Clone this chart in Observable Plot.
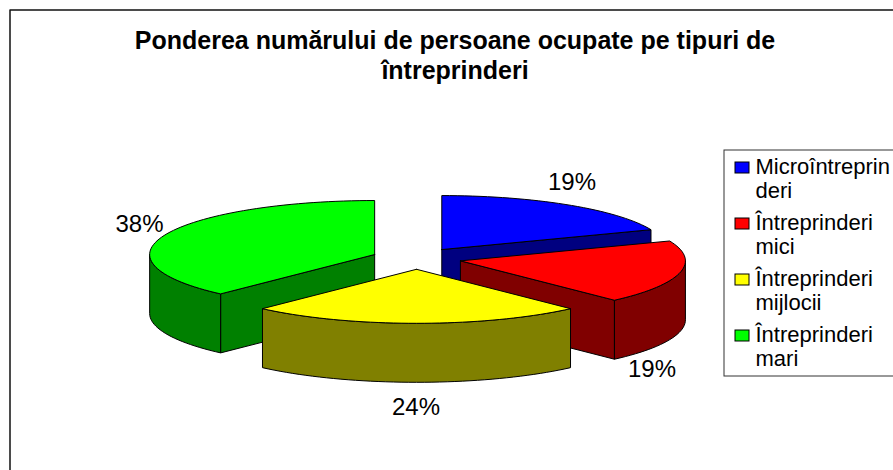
<!DOCTYPE html>
<html>
<head>
<meta charset="utf-8">
<style>html,body{margin:0;padding:0;background:#fff}svg{display:block}</style>
<script src="https://cdn.jsdelivr.net/npm/d3@7"></script>
<script src="https://cdn.jsdelivr.net/npm/@observablehq/plot@0.6"></script>
</head>
<body>
<script>
const categories = ["Microîntreprinderi", "Întreprinderi mici", "Întreprinderi mijlocii", "Întreprinderi mari"];
const shares = [19, 19, 24, 38];
const topColors = ["#0000ff", "#ff0000", "#ffff00", "#00ff00"];
const sideColors = ["#000080", "#800000", "#808000", "#008000"];
const legendLines = [["Microîntreprin", "deri"], ["Întreprinderi", "mici"], ["Întreprinderi", "mijlocii"], ["Întreprinderi", "mari"]];
const titleLines = ["Ponderea numărului de persoane ocupate pe tipuri de", "întreprinderi"];

// projection of the pie (layout only)
const pie = {cx: 416, cy: 258, rx: 225, ry: 54, depth: 59, explode: 0.2};
const font = "'Liberation Sans', Arial, sans-serif";

const total = d3.sum(shares);
const rad = d => d * Math.PI / 180;
const pt = (o, a, dz = 0) => ({x: o.x + pie.rx * Math.sin(rad(a)), y: o.y - pie.ry * Math.cos(rad(a)) + dz});
const arc = (o, a, b, dz = 0) => {
  const n = Math.max(2, Math.ceil(Math.abs(b - a) / 2));
  return d3.range(n + 1).map(i => pt(o, a + (b - a) * i / n, dz));
};

let acc = 0;
const slices = shares.map((v, i) => {
  const a = acc / total * 360; acc += v;
  const b = acc / total * 360;
  const m = (a + b) / 2;
  const o = {x: pie.cx + pie.explode * pie.rx * Math.sin(rad(m)), y: pie.cy - pie.explode * pie.ry * Math.cos(rad(m))};
  return {i, a, b, o};
});

const faces = [];
const addFace = (id, color, pts) => {
  const closed = [...pts, pts[0]];
  closed.forEach(p => faces.push({face: id, color, x: p.x, y: p.y}));
};
const radialWall = (s, ang, id) => {
  const e = pt(s.o, ang);
  addFace(id, sideColors[s.i], [s.o, e, {x: e.x, y: e.y + pie.depth}, {x: s.o.x, y: s.o.y + pie.depth}]);
};
// painter's order: back slice, left slice, right slice, front slice
[0, 3, 1, 2].forEach(k => {
  const s = slices[k];
  if (Math.sin(rad(s.a)) < -1e-6) radialWall(s, s.a, `s${k}-start`);
  if (Math.sin(rad(s.b)) > 1e-6) radialWall(s, s.b, `s${k}-end`);
  const a = Math.max(s.a, 90), b = Math.min(s.b, 270);
  if (b > a) addFace(`s${k}-outer`, sideColors[k], [...arc(s.o, a, b), ...arc(s.o, b, a, pie.depth)]);
  addFace(`s${k}-top`, topColors[k], [s.o, ...arc(s.o, s.a, s.b)]);
});

// label placement (layout only), same order as shares
const labelAt = [[571.5, 181.5], [651.5, 368.5], [415.5, 406.5], [139, 223.5]];
const labels = shares.map((v, i) => ({t: `${v}%`, x: labelAt[i][0], y: labelAt[i][1]}));

const legendTop = 150, legendStep = 56;
const legendSwatches = categories.map((c, i) => ({
  x1: 735, x2: 749, y1: legendTop + 12 + i * legendStep, y2: legendTop + 23 + i * legendStep, color: topColors[i]
}));
const legendText = legendLines.flatMap((ls, i) => ls.map((t, j) => ({
  t, x: 755, y: legendTop + 16.5 + i * legendStep + j * 23.5
})));
const titleText = titleLines.map((t, i) => ({t, x: 454.5, y: 40.5 + i * 30}));

const chart = Plot.plot({
  width: 893, height: 470, margin: 0,
  style: {background: "#fff", fontFamily: font},
  x: {domain: [0, 893], range: [0, 893], axis: null},
  y: {domain: [0, 470], range: [0, 470], axis: null},
  color: {type: "identity"},
  marks: [
    Plot.line([{x: 9.5, y: 470}, {x: 9.5, y: 9.5}, {x: 893, y: 9.5}], {x: "x", y: "y", stroke: "#111", strokeWidth: 1.5}),
    Plot.text(titleText, {x: "x", y: "y", text: "t", fontSize: 25, fontWeight: "bold", fill: "#000", textAnchor: "middle"}),
    Plot.line(faces, {x: "x", y: "y", z: "face", fill: "color", stroke: "#000", strokeWidth: 1, curve: "linear", strokeLinejoin: "miter"}),
    Plot.text(labels, {x: "x", y: "y", text: "t", fontSize: 24, fill: "#000", textAnchor: "middle"}),
    Plot.rect([{x1: 724, x2: 900, y1: 150, y2: 376}], {x1: "x1", x2: "x2", y1: "y1", y2: "y2", fill: "#fff", stroke: "#333", strokeWidth: 1}),
    Plot.rect(legendSwatches, {x1: "x1", x2: "x2", y1: "y1", y2: "y2", fill: "color", stroke: "#000", strokeWidth: 1}),
    Plot.text(legendText, {x: "x", y: "y", text: "t", fontSize: 22, fill: "#000", textAnchor: "start"})
  ]
});
document.body.appendChild(chart);
</script>
</body>
</html>
